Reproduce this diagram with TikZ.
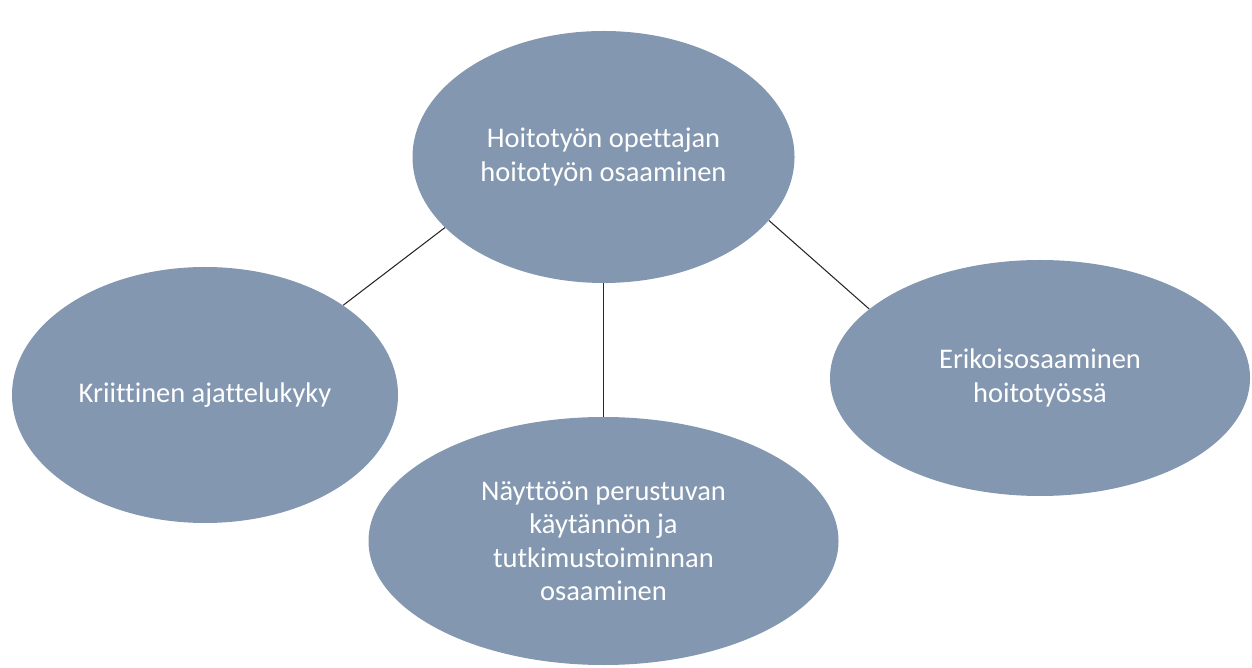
\documentclass[tikz,border=0pt]{standalone}
\usepackage{fontspec}
\setmainfont[Ligatures=NoCommon]{Carlito}
\usetikzlibrary{shapes.geometric}
\definecolor{ovalfill}{RGB}{132,151,176}
\begin{document}
\begin{tikzpicture}[oval/.style={ellipse, fill=ovalfill, text=white, inner sep=0pt, align=center, font=\fontsize{16.2}{19}\selectfont}, link/.style={line width=0.6pt, black!85}]
         \useasboundingbox (0, 0) rectangle (25.04, 13.34); 
         \node [oval, minimum width=7.64cm, minimum height=5.04cm] (MT) at (12.07, 10.20) {Hoitotyön opettajan\\hoitotyön osaaminen}; 
         \node [oval, minimum width=7.72cm, minimum height=5.12cm] (LM) at (4.10, 5.44) {Kriittinen ajattelukyky}; 
         \node [oval, minimum width=9.40cm, minimum height=4.96cm] (MB) at (12.07, 2.52) {Näyttöön perustuvan\\käytännön ja\\tutkimustoiminnan\\osaaminen}; 
         \node [oval, minimum width=8.40cm, minimum height=4.72cm] (RM) at (20.80, 5.78) {Erikoisosaaminen\\hoitotyössä}; 
         \draw [link] (MT.204.5) -- (LM.33.7); 
         \draw [link] (MT.south) -- (MB.north); 
         \draw [link] (MT.339.7) -- (RM.158.4); 
 \end{tikzpicture}
\end{document}
